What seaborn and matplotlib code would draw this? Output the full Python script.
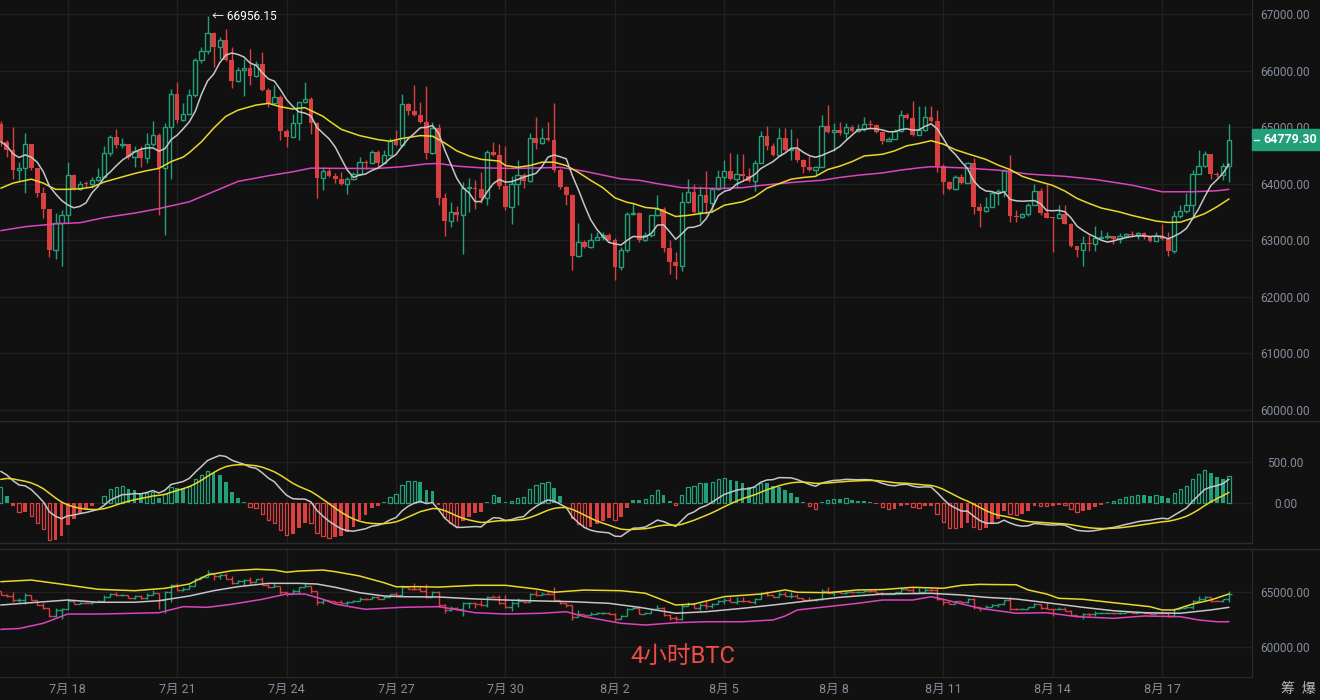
import numpy as np
import pandas as pd
import seaborn as sns
import matplotlib.pyplot as plt
import matplotlib.transforms as mtransforms
from matplotlib.lines import Line2D
from matplotlib.patches import Rectangle

# %% 4h BTC candles, 7/16 04:00 .. 8/18 20:00
first_open = 65060
closes = [
    64740, 64600, 64240, 64270, 64700, 64270, 63830, 63560, 62820, 63300,
    63450, 64150, 63910, 64000, 63990, 64070, 64110, 64540, 64830, 64680,
    64710, 64470, 64570, 64450, 64700, 64860, 64270, 65010, 65580, 65130,
    65240, 65560, 66190, 66350, 66660, 66420, 66540, 66190, 65820, 66010,
    66040, 65910, 66120, 65650, 65420, 65540, 64940, 64830, 65080, 65440,
    65490, 65080, 64100, 64220, 64130, 64080, 63990, 64080, 64180, 64380,
    64360, 64560, 64370, 64500, 64760, 64680, 65400, 65280, 65210, 65090,
    64550, 64990, 63750, 63340, 63500, 63440, 63930, 63930, 63900, 63750,
    64560, 64500, 63960, 63590, 63990, 64160, 64050, 64800, 64720, 64800,
    64770, 64250, 63940, 63800, 62720, 62970, 62880, 63010, 63060, 63090,
    63010, 62530, 62830, 63460, 63490, 63010, 63090, 63440, 63560, 62860,
    62610, 62550, 63680, 63860, 63500, 63800, 63660, 63900, 64110, 64220,
    64080, 64180, 64140, 64040, 64370, 64840, 64660, 64500, 64800, 64590,
    64620, 64420, 64290, 64250, 64300, 65020, 64910, 64950, 64890, 65010,
    64930, 64960, 65060, 65030, 64910, 64750, 64790, 64930, 65220, 65160,
    64860, 64950, 65180, 65110, 64320, 64030, 63910, 64120, 64020, 64360,
    63590, 63510, 63590, 63830, 63870, 64240, 63430, 63410, 63460, 63630,
    63870, 63490, 63400, 63390, 63460, 63290, 62890, 62830, 62950, 62940,
    63040, 63060, 63070, 63020, 63080, 63110, 63090, 63120, 63050, 62990,
    63080, 63030, 62810, 63430, 63510, 63620, 64180, 64310, 64520, 64180,
    64150, 64310, 64779.30,
]
highs = [
    65100, 64770, 65000, 64390, 64890, 64710, 64270, 63950, 63560, 63480,
    63540, 64380, 64170, 64040, 64040, 64110, 64270, 64670, 64860, 64960,
    64800, 64710, 64660, 64660, 64890, 65110, 64890, 65070, 65670, 65800,
    65420, 65670, 66230, 66420, 66956.15, 66690, 66600, 66730, 66420, 66070,
    66200, 66380, 66160, 66320, 65690, 65750, 65560, 64960, 65230, 65450,
    65800, 65530, 65090, 64300, 64280, 64190, 64210, 64120, 64200, 64480,
    64420, 64600, 64600, 64590, 64800, 64950, 65580, 65430, 65750, 65440,
    65720, 65090, 65060, 63840, 63670, 63600, 64030, 64100, 64060, 64210,
    64590, 64740, 64710, 64660, 64130, 64420, 64190, 64890, 65180, 64990,
    65090, 65420, 64280, 63960, 63810, 63310, 63000, 63120, 63140, 63140,
    63120, 63040, 62880, 63500, 63650, 63500, 63150, 63440, 63800, 63590,
    63000, 62800, 63860, 64080, 64000, 63960, 64230, 63950, 64250, 64420,
    64550, 64520, 64520, 64270, 64420, 64930, 65020, 64720, 64990, 64990,
    64960, 64810, 64440, 64490, 64310, 65210, 65390, 65080, 65090, 65080,
    65030, 65060, 65180, 65120, 65050, 64940, 64820, 64960, 65300, 65250,
    65470, 65380, 65380, 65370, 65300, 64350, 64050, 64150, 64170, 64390,
    64450, 63650, 63770, 63860, 63910, 64250, 64500, 63530, 63490, 63650,
    64000, 63920, 64000, 63410, 63620, 63620, 63310, 62890, 63070, 63100,
    63250, 63190, 63150, 63080, 63120, 63130, 63170, 63150, 63150, 63080,
    63150, 63290, 63150, 63520, 63620, 63830, 64240, 64600, 64580, 64520,
    64210, 64370, 65060,
]
lows = [
    64660, 64480, 64080, 64040, 63840, 64240, 63770, 63390, 62710, 62660,
    62550, 63310, 63890, 63880, 63950, 63920, 64040, 64100, 64490, 64630,
    64630, 64430, 64300, 64300, 64360, 64660, 63450, 63090, 64080, 65070,
    65100, 65210, 65540, 66130, 66300, 66070, 66200, 66160, 65700, 65800,
    65550, 65740, 65890, 65630, 65360, 65410, 64770, 64650, 64830, 64770,
    65420, 64870, 63750, 63890, 64120, 64010, 63970, 63810, 64060, 64160,
    64260, 64360, 64300, 64360, 64490, 64660, 64650, 65220, 65190, 65080,
    64430, 64530, 63620, 63080, 63230, 63340, 62760, 63500, 63560, 63660,
    63620, 64490, 63900, 63530, 63290, 63620, 63930, 64030, 64620, 64700,
    64760, 64200, 63900, 63620, 62470, 62700, 62860, 62870, 63000, 63010,
    62990, 62300, 62480, 62800, 63440, 62970, 62990, 63060, 63420, 62800,
    62410, 62310, 62460, 63660, 63490, 63330, 63470, 63500, 63890, 63900,
    64060, 63920, 64040, 64030, 63870, 64360, 64600, 64490, 64490, 64580,
    64420, 64390, 64190, 64220, 64150, 64290, 64890, 64570, 64860, 64790,
    64920, 64920, 64940, 64990, 64890, 64710, 64770, 64800, 64920, 65150,
    64840, 64860, 64940, 65090, 64200, 63820, 63890, 63890, 64000, 64010,
    63460, 63240, 63500, 63580, 63630, 63770, 63330, 63330, 63390, 63420,
    63620, 63440, 63390, 62800, 63390, 63280, 62880, 62710, 62540, 62810,
    62810, 63030, 63030, 62930, 62960, 63060, 63060, 63020, 63030, 62970,
    63030, 63000, 62720, 62770, 63400, 63480, 63400, 64170, 64290, 64090,
    64120, 64060, 64030,
]

# x axis: a label every 3 days at the 00:00 candle
tick_labels = ['7月 18', '7月 21', '7月 24', '7月 27', '7月 30', '8月 2',
               '8月 5', '8月 8', '8月 11', '8月 14', '8月 17']
first_tick = 11
tick_step = 18

# slow averages on the price panel, read at sample candles
ma_yellow_idx = [0, 2, 5, 7, 9, 11, 13, 15, 17, 20, 22, 24, 26, 28, 30, 31, 33, 35, 37, 39,
                 42, 44, 46, 48, 50, 53, 54, 56, 59, 62, 64, 66, 69, 71, 73, 75, 77, 79, 82, 83,
                 85, 87, 89, 91, 93, 95, 97, 99, 101, 103, 104, 106, 108, 111, 113, 115, 117, 119,
                 122, 124, 126, 128, 130, 132, 134, 136, 138, 140, 142, 145, 147, 149, 151, 153,
                 155, 157, 159, 162, 164, 166, 168, 170, 173, 175, 177, 179, 181, 184, 186, 188,
                 190, 192, 194, 196, 198, 200, 202]
ma_yellow = [63920, 64010, 64080, 64010, 63900, 63900, 63910, 63940, 64030, 64120, 64180, 64230,
             64270, 64390, 64470, 64550, 64740, 64980, 65190, 65300, 65390, 65420, 65360, 65320,
             65345, 65190, 65110, 64960, 64850, 64780, 64750, 64800, 64850, 64840, 64720, 64580,
             64490, 64430, 64400, 64320, 64290, 64320, 64380, 64380, 64320, 64200, 64060, 63930,
             63750, 63670, 63650, 63580, 63560, 63420, 63440, 63470, 63500, 63620, 63680, 63770,
             63920, 64000, 64080, 64110, 64130, 64250, 64310, 64390, 64490, 64520, 64580, 64670,
             64710, 64760, 64700, 64600, 64530, 64430, 64330, 64250, 64130, 64060, 63970, 63870,
             63740, 63650, 63570, 63500, 63440, 63390, 63340, 63315, 63320, 63390, 63470, 63590,
             63730]
ma_pink_idx = [0, 4, 9, 13, 17, 22, 26, 31, 35, 39, 44, 48, 51, 56, 62, 66, 70, 72, 75, 79, 84,
               89, 92, 96, 100, 102, 105, 108, 112, 115, 118, 122, 125, 128, 131, 135, 138, 141,
               145, 148, 151, 153, 158, 164, 169, 175, 180, 186, 191, 196, 200, 202]
ma_pink = [63170, 63240, 63290, 63310, 63400, 63480, 63560, 63680, 63860, 64040, 64140, 64210,
           64275, 64270, 64270, 64300, 64350, 64358, 64310, 64280, 64270, 64280, 64290, 64220,
           64130, 64085, 64060, 64000, 63930, 63920, 63915, 63930, 63970, 64000, 64030, 64060,
           64110, 64150, 64190, 64240, 64280, 64300, 64280, 64240, 64170, 64130, 64075, 63975,
           63857, 63857, 63875, 63900]
ma_white_len = 7

# MACD(12, 26, 9): indicator state at the left edge
ema_fast_start = 64820
ema_slow_start = 64400
dea_start = 260

# channel lines on the lower panel
band_up_idx = [0, 5, 11, 16, 22, 27, 31, 34, 38, 42, 45, 47, 49, 53, 55, 59, 63, 65, 69, 72, 78, 83,
               88, 91, 96, 102, 106, 111, 114, 119, 125, 129, 131, 136, 141, 145, 150, 155, 158,
               161, 163, 167, 169, 172, 174, 178, 183, 189, 191, 193, 196, 199, 202]
band_up = [65910, 66060, 65610, 65220, 65090, 65310, 65700, 66520, 66910, 67040, 66970, 66770,
           66880, 66970, 66820, 66430, 65820, 65450, 65455, 65420, 65580, 65580, 65250, 64950,
           65150, 65090, 64860, 63790, 63880, 64550, 64790, 65160, 64950, 64910, 65160, 65190,
           65400, 65310, 65580, 65670, 65650, 65630, 65155, 64790, 64400, 64310, 64000, 63640,
           63340, 63340, 63880, 64250, 64790]
band_mid_idx = [0, 5, 11, 16, 22, 26, 31, 35, 39, 44, 49, 52, 55, 59, 63, 66, 72, 78, 83, 89, 94,
                100, 105, 111, 116, 122, 127, 133, 138, 145, 153, 158, 162, 167, 172, 178, 183,
                188, 194, 199, 202]
band_mid = [63790, 64000, 64245, 64040, 64040, 64180, 64610, 65090, 65455, 65760, 65760, 65700,
            65400, 64910, 64610, 64545, 64520, 64340, 64245, 64155, 64090, 63945, 63580, 63040,
            63180, 63490, 63790, 64180, 64490, 64790, 64855, 64700, 64490, 64336, 64000, 63580,
            63270, 63090, 63040, 63340, 63580]
band_low_idx = [0, 3, 7, 11, 16, 22, 26, 30, 34, 38, 43, 47, 50, 53, 55, 58, 60, 66, 72, 78, 83,
                89, 93, 96, 102, 106, 111, 116, 122, 127, 129, 131, 136, 141, 145, 150, 153, 155,
                161, 167, 172, 177, 183, 188, 194, 197, 200, 202]
band_low = [61580, 61650, 62130, 62970, 62970, 63040, 63090, 63640, 63580, 63860, 64310, 64790,
            64790, 64310, 63880, 63580, 63400, 63580, 63640, 63090, 62970, 63040, 63180, 62730,
            62130, 61970, 62180, 62270, 62270, 62430, 62790, 63340, 63640, 63950, 64245, 64245,
            64545, 64310, 63490, 63040, 63090, 62730, 62580, 62790, 62730, 62430, 62270, 62270]

# %% colours
BG = '#111111'
GRID = '#212121'
SEP = '#2b2b2b'
GREEN = '#22a07a'
RED = '#d9403f'
TEXT = '#858c9a'
YELLOW = '#e9d82a'
PINK = '#dc44bc'
WHITE_LINE = '#c6c6c6'

sns.set_style('dark', {'axes.facecolor': BG, 'figure.facecolor': BG,
                       'axes.edgecolor': SEP, 'grid.color': GRID})
plt.rcParams['font.family'] = ['Roboto', 'Noto Sans CJK SC', 'DejaVu Sans']

# %% derived columns
df = pd.DataFrame({'close': closes, 'high': highs, 'low': lows})
df['open'] = [first_open] + closes[:-1]
df['x'] = np.arange(len(df))
df['ma_white'] = df['close'].rolling(ma_white_len, min_periods=1).mean()

ema_f, ema_s, dea = ema_fast_start, ema_slow_start, dea_start
difs, deas = [], []
for c in closes:
    ema_f += (c - ema_f) * 2 / 13
    ema_s += (c - ema_s) * 2 / 27
    dif = ema_f - ema_s
    dea += (dif - dea) * 2 / 10
    difs.append(dif)
    deas.append(dea)
df['dif'] = difs
df['dea'] = deas
df['hist'] = 2 * (df['dif'] - df['dea'])
df['grow'] = df['hist'].abs() >= df['hist'].abs().shift(1).fillna(0)

tick_pos = [first_tick + tick_step * k for k in range(len(tick_labels))]
up = df['close'] >= df['open']

# %% figure
fig = plt.figure(figsize=(13.2, 7), dpi=100)
W = 1251.5 / 1320
ax_main = fig.add_axes([0, 1 - 421 / 700, W, 421 / 700])
ax_macd = fig.add_axes([0, 1 - 543 / 700, W, 122 / 700])
ax_low = fig.add_axes([0, 1 - 677 / 700, W, 128 / 700])

for ax in (ax_main, ax_macd, ax_low):
    ax.set_facecolor(BG)
    ax.set_xlim(-0.13, 205.7)
    ax.set_xticks(tick_pos)
    ax.grid(True, color=GRID, lw=0.9)
    ax.set_axisbelow(True)
    for s in ax.spines.values():
        s.set_visible(False)
    ax.spines['right'].set_visible(True)
    ax.spines['right'].set_color(SEP)
    ax.yaxis.tick_right()
    ax.tick_params(axis='y', length=0, pad=24.5, labelcolor=TEXT, labelsize=8.6)
    ax.tick_params(axis='x', length=0)
    ax.set_xlabel('')
    ax.set_ylabel('')

# price panel
ax_main.set_ylim(59805, 67247)
ax_main.set_yticks(range(60000, 67001, 1000))
ax_main.set_yticklabels([f'{v:.2f}' for v in range(60000, 67001, 1000)])
ax_main.set_xticklabels([])

ax_main.vlines(df['x'], df['low'], df['high'], colors=np.where(up, GREEN, RED), lw=1, zorder=2)
body_lo = np.minimum(df['open'], df['close'])
body_h = np.maximum((df['close'] - df['open']).abs(), 16)
ax_main.bar(df['x'][up], body_h[up], bottom=body_lo[up], width=0.7,
            facecolor=BG, edgecolor=GREEN, lw=1, zorder=3)
ax_main.bar(df['x'][~up], body_h[~up], bottom=body_lo[~up], width=0.78,
            color=RED, lw=0, zorder=3)

sns.lineplot(x=ma_pink_idx, y=ma_pink, ax=ax_main, color=PINK, lw=1.1, legend=False, zorder=4)
sns.lineplot(x=ma_yellow_idx, y=ma_yellow, ax=ax_main, color=YELLOW, lw=1.1, legend=False, zorder=4)
sns.lineplot(x=df['x'], y=df['ma_white'], ax=ax_main, color=WHITE_LINE, lw=1.1, legend=False, zorder=4)

hi = int(np.argmax(highs))
ax_main.annotate(f'\u2190 {highs[hi]:.2f}', xy=(hi, highs[hi]), xytext=(3.5, 0),
                 textcoords='offset points', ha='left', va='center', color='white',
                 fontsize=8.6, zorder=6)

# last price tag
blend = mtransforms.blended_transform_factory(fig.transFigure, ax_main.transData)
fig.add_artist(Rectangle((1251.5 / 1320, closes[-1] - 186), 70 / 1320, 372,
                         transform=blend, color=GREEN, zorder=5))
fig.add_artist(Line2D([1254 / 1320, 1259 / 1320], [closes[-1], closes[-1]],
                      transform=blend, color='white', lw=1, zorder=6))
fig.text(1263 / 1320, closes[-1], f'{closes[-1]:.2f}', transform=blend, color='white',
         fontsize=9, fontweight='bold', va='center', ha='left', zorder=6)

# MACD panel
ax_macd.set_ylim(-491, 996)
ax_macd.set_yticks([0, 500])
ax_macd.set_yticklabels(['0.00', '500.00'])
ax_macd.set_xticklabels([])
hcol = np.where(df['hist'] >= 0, GREEN, RED)
hollow = df['grow'].values
ax_macd.bar(df['x'][~hollow], df['hist'][~hollow], width=0.62, color=hcol[~hollow], lw=0, zorder=3)
ax_macd.bar(df['x'][hollow], df['hist'][hollow], width=0.55, facecolor=BG,
            edgecolor=hcol[hollow], lw=0.9, zorder=3)
sns.lineplot(x=df['x'], y=df['dif'], ax=ax_macd, color=WHITE_LINE, lw=1.1, legend=False, zorder=4)
sns.lineplot(x=df['x'], y=df['dea'], ax=ax_macd, color=YELLOW, lw=1.1, legend=False, zorder=4)

# lower panel: OHLC bars with channel
ax_low.set_ylim(57245, 68882)
ax_low.set_yticks([60000, 65000])
ax_low.set_yticklabels(['60000.00', '65000.00'])
ax_low.spines['bottom'].set_visible(True)
ax_low.spines['bottom'].set_color(SEP)
bar_cols = np.where(up, GREEN, RED)
ax_low.vlines(df['x'], df['low'], df['high'], colors=bar_cols, lw=1, zorder=3)
ax_low.hlines(df['open'], df['x'] - 0.5, df['x'], colors=bar_cols, lw=1, zorder=3)
ax_low.hlines(df['close'], df['x'], df['x'] + 0.5, colors=bar_cols, lw=1, zorder=3)
sns.lineplot(x=band_low_idx, y=band_low, ax=ax_low, color=PINK, lw=1.1, legend=False, zorder=4)
sns.lineplot(x=band_mid_idx, y=band_mid, ax=ax_low, color=WHITE_LINE, lw=1.1, legend=False, zorder=4)
sns.lineplot(x=band_up_idx, y=band_up, ax=ax_low, color=YELLOW, lw=1.1, legend=False, zorder=4)
ax_low.set_xticklabels(tick_labels)
ax_low.tick_params(axis='x', labelcolor=TEXT, labelsize=9, pad=4)

# centre the right-hand price labels in the scale strip
for ax in (ax_main, ax_macd, ax_low):
    for lab in ax.get_yticklabels():
        lab.set_horizontalalignment('center')

# separators
for yy, x1 in ((421, 1.0), (543, W), (549, 1.0)):
    fig.add_artist(Line2D([0, x1], [1 - yy / 700, 1 - yy / 700], color=SEP, lw=1))

fig.text(683 / 1320, 1 - 656 / 700, '4小时BTC', color='#ef4c48', fontsize=17,
         ha='center', va='center')
fig.text(1281 / 1320, 1 - 689 / 700, '筹  爆', color='#b8b8b8', fontsize=10,
         ha='left', va='center')

fig.savefig('out.png', dpi=100, facecolor=BG)
